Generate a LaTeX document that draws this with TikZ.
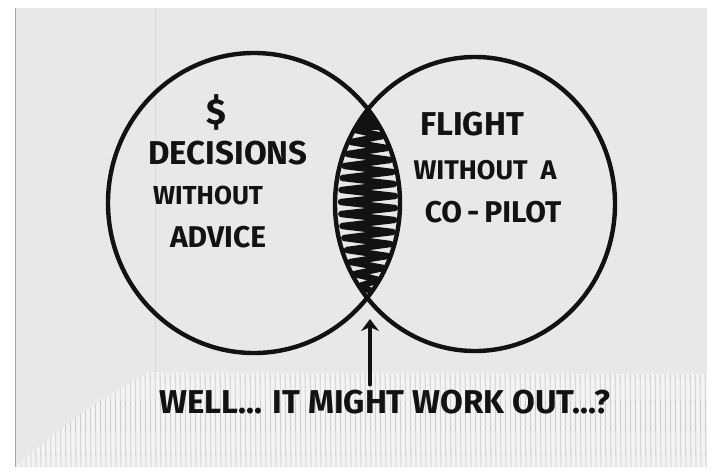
\documentclass[tikz,border=0pt]{standalone}
\usepackage{fontspec}
\usetikzlibrary{arrows.meta}
\newfontfamily\marker{Fira Sans}
\definecolor{napkin}{HTML}{E8E8E8}
\definecolor{fringe}{HTML}{F3F3F3}
\definecolor{ink}{HTML}{121212}
\tikzset{
  ring/.style={draw=ink, line width=4.4pt},
  hand/.style={font=\marker\bfseries\fontsize{#1}{#1}\selectfont, text=ink, inner sep=0pt},
  hand/.default=32,
  scrawl/.style={draw=ink, line width=6.4pt, line join=round, line cap=round},
  pointer/.style={draw=ink, line width=3.4pt, line cap=round, -{Stealth[length=12pt, width=18pt]}},
}

\begin{document}
\begin{tikzpicture}[x=1pt, y=-1pt]
    \useasboundingbox (0,0) rectangle (717,472);
    \fill[white] (0,0) rectangle (717,472);
    \fill[napkin] (15,8) rectangle (707,467);
    % embossed fringe
    \begin{scope}
      \clip (707,374) -- (150,372) .. controls (95,400) and (45,440) .. (15,467) -- (707,467) -- cycle;
      \fill[fringe] (0,360) rectangle (717,472);
      \foreach \x in {10,15,...,710}
        \draw[gray!40, line width=0.8pt] (\x,366) -- (\x+1,467);
    \end{scope}
    \draw[gray!30, line width=1pt] (155,8) -- (155,372);
    \draw[gray!70, line width=1pt] (15,8) -- (15,467);
    \coordinate (lc) at (254,203);
    \coordinate (rc) at (475,204);
    % shaded overlap
    \begin{scope}
      \clip (lc) ellipse [x radius=146, y radius=150];
      \clip (rc) ellipse [x radius=140, y radius=147];
      \fill[ink] (320,95) rectangle (420,130);
      \draw[scrawl] (368,124) \foreach \y [count=\i] in {130,136,...,292}
        { -- ({368+cos(180*\i)*27*(1-((\y-203)/100)^2)}, \y) };
    \end{scope}
    \draw[ring] (lc) ellipse [x radius=146, y radius=150];
    \draw[ring] (rc) ellipse [x radius=140, y radius=147];
    \coordinate (tip) at (370,319);
    \node[hand=36] (dollar) at (216,112) {\$};
    \node[hand=33] (decisions) at (228,153) {DECISIONS};
    \node[hand=26] (without) at (208,195) {WITHOUT};
    \node[hand=30] (advice) at (218,237) {ADVICE};
    \node[hand=33] (flight) at (472,124) {FLIGHT};
    \node[hand=27] (withouta) at (485,170) {WITHOUT\ \ A};
    \node[hand=30] (copilot) at (493,212) {CO\,-\,PILOT};
    \node[hand=33] (caption) at (385,402) {WELL... IT MIGHT WORK OUT...?};
    \draw[pointer] (caption.north -| tip) ++(0,-5) -- (tip);
\end{tikzpicture}
\end{document}
